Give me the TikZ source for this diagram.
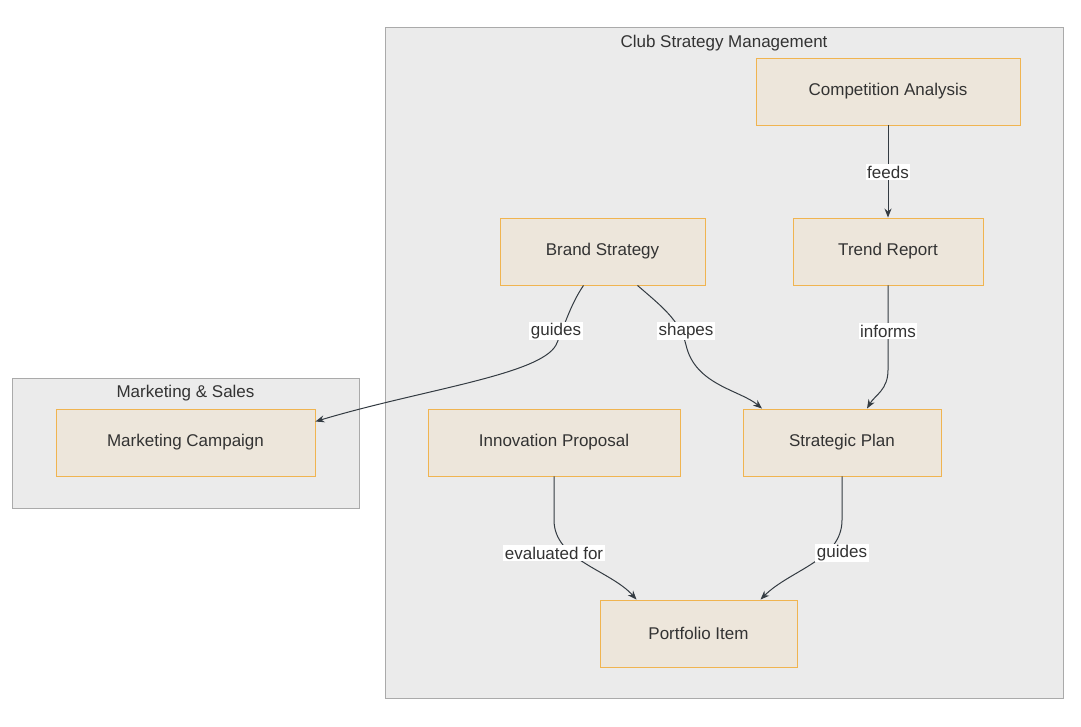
\documentclass[tikz,border=0pt]{standalone}
\usepackage{fontspec}
\setmainfont{Liberation Sans}
\usetikzlibrary{arrows.meta,calc}
\definecolor{clfill}{HTML}{EBEBEB}
\definecolor{clline}{HTML}{AAAAAA}
\definecolor{nfill}{HTML}{EDE6DB}
\definecolor{nline}{HTML}{F0B450}
\definecolor{txt}{HTML}{333333}
\definecolor{edge}{HTML}{333B42}
\begin{document}
\begin{tikzpicture}[x=1pt,y=-1pt,
  every node/.style={font=\fontsize{17}{20}\selectfont,text=txt},
  box/.style={draw=nline,fill=nfill,line width=0.9pt,minimum height=67,inner sep=0pt},
  clus/.style={draw=clline,fill=clfill,line width=0.9pt},
  lab/.style={fill=white,inner sep=1.5pt},
  arr/.style={draw=edge,line width=1pt,-{Stealth[length=9pt,width=7pt]}}]
\useasboundingbox (0,0) rectangle (1081,726);
\draw[clus] (385,27) rectangle (1063,698);
\draw[clus] (12,378) rectangle (359,508);
\node at (724,43) {Club Strategy Management};
\node at (185.5,393) {Marketing \& Sales};
\node[box,minimum width=264] (ca) at (888,91.5) {Competition Analysis};
\node[box,minimum width=190] (tr) at (888,251.5) {Trend Report};
\node[box,minimum width=205] (bs) at (602.5,251.5) {Brand Strategy};
\node[box,minimum width=259] (mc) at (185.5,442.5) {Marketing Campaign};
\node[box,minimum width=252] (ip) at (554,442.5) {Innovation Proposal};
\node[box,minimum width=198] (sp) at (842,442.5) {Strategic Plan};
\node[box,minimum width=197] (pi) at (698.5,633.5) {Portfolio Item};
% edges
\draw[arr] (ca.south) -- (tr.north);
\node[lab] at (888,172) {feeds};
\coordinate (b1) at ($(bs.south)+(-19,0)$);
\coordinate (b2) at ($(bs.south)+(35,0)$);
\coordinate (mcE) at ($(mc.east)+(0,-21)$);
\coordinate (sp1) at ($(sp.north)+(-80,0)$);
\coordinate (sp2) at ($(sp.north)+(25,0)$);
\coordinate (ip1) at (ip.south);
\coordinate (pi1) at ($(pi.north)+(-62,0)$);
\coordinate (pi2) at ($(pi.north)+(62,0)$);
\draw[arr] (b1) .. controls (570,305) and (563,330) .. (556,345) .. controls (540,375) and (420,390) .. (mcE);
\node[lab] at (556,331) {guides};
\draw[arr] (b2) .. controls (660,305) and (680,320) .. (686,345) .. controls (695,385) and (740,390) .. (sp1);
\node[lab] at (686,331) {shapes};
\draw[arr] (tr.south) -- (888,370) .. controls (888,390) and (875,395) .. (sp2);
\node[lab] at (888,331) {informs};
\draw[arr] (ip1) -- (554,520) .. controls (554,560) and (610,570) .. (pi1);
\node[lab] at (554,553) {evaluated for};
\draw[arr] (sp.south) -- (842,520) .. controls (842,560) and (790,570) .. (pi2);
\node[lab] at (842,553) {guides};
\end{tikzpicture}
\end{document}
